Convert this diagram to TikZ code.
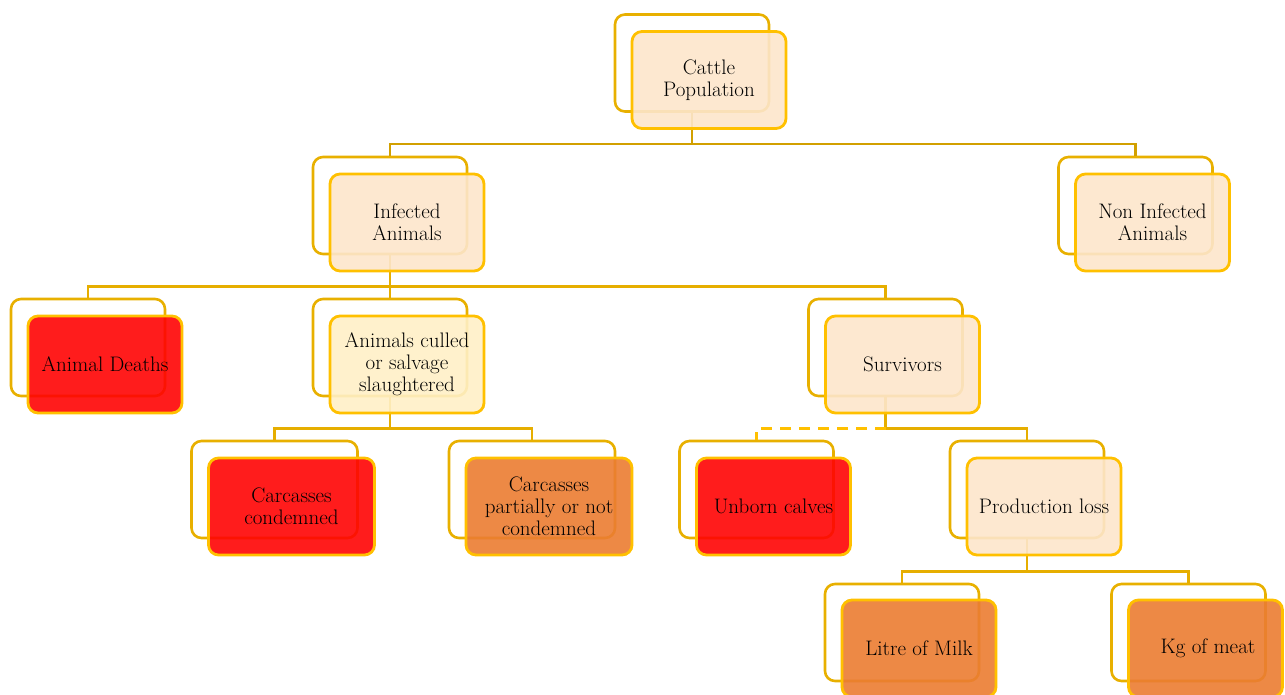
\documentclass[tikz,border=0pt]{standalone}
\definecolor{backc}{HTML}{E8B000}
\definecolor{frontc}{HTML}{FFC000}
\definecolor{connc}{HTML}{E6AE00}
\definecolor{conntop}{HTML}{D2A000}
\definecolor{peach}{HTML}{FDE6CB}
\definecolor{lyellow}{HTML}{FFF0C6}
\definecolor{bred}{HTML}{FF0303}
\definecolor{borange}{HTML}{EB7C31}
\begin{document}
\begin{tikzpicture}[x=1pt,y=-1pt,
  back/.style={draw=backc, line width=2.6pt, rounded corners=10pt, minimum width=154pt, minimum height=97pt, inner sep=0pt},
  front/.style={draw=frontc, line width=2.8pt, rounded corners=10pt, minimum width=154pt, minimum height=97pt, fill opacity=0.9, text opacity=1, align=center, font=\fontsize{21}{22}\selectfont, inner sep=0pt},
  wide/.style={minimum width=166pt},
  conn/.style={draw=connc, line width=2.5pt},
]
\useasboundingbox (0,0) rectangle (1285,695);
% back boxes
\node[back] (cattle-b) at (692,63) {};
\node[back] (inf-b) at (390,205.5) {};
\node[back] (non-b) at (1135.5,205.5) {};
\node[back] (dea-b) at (88,347.5) {};
\node[back] (cul-b) at (390,347.5) {};
\node[back] (sur-b) at (885.5,347.5) {};
\node[back,wide] (cc-b) at (274.5,489.5) {};
\node[back,wide] (cp-b) at (532,489.5) {};
\node[back] (unb-b) at (756.5,489.5) {};
\node[back] (pro-b) at (1027,489.5) {};
\node[back] (mil-b) at (902,632.5) {};
\node[back] (kg-b) at (1188.5,632.5) {};
% connectors
\draw[conn,draw=conntop] (cattle-b.south) -- ++(0,31) -| (inf-b.north);
\draw[conn,draw=conntop] (cattle-b.south) -- ++(0,31) -| (non-b.north);
\draw[conn] (inf-b.south) -- ++(0,31) -| (dea-b.north);
\draw[conn] (inf-b.south) -- ++(0,31) -| (cul-b.north);
\draw[conn] (inf-b.south) -- ++(0,31) -| (sur-b.north);
\draw[conn] (cul-b.south) -- ++(0,31) -| (cc-b.north);
\draw[conn] (cul-b.south) -- ++(0,31) -| (cp-b.north);
\draw[conn] (sur-b.south) -- ++(0,31) -| (pro-b.north);
\draw[conn,draw=frontc,dash pattern=on 11pt off 8pt] (sur-b.south) ++(0,31) -| (unb-b.north);
\draw[conn] (pro-b.south) -- ++(0,32) -| (mil-b.north);
\draw[conn] (pro-b.south) -- ++(0,32) -| (kg-b.north);
% front boxes
\node[front,fill=peach] (cattle) at ([shift={(17,17)}]cattle-b.center) {Cattle\\Population};
\node[front,fill=peach] (inf) at ([shift={(17,17)}]inf-b.center) {Infected\\Animals};
\node[front,fill=peach] (non) at ([shift={(17,17)}]non-b.center) {Non Infected\\Animals};
\node[front,fill=bred] (dea) at ([shift={(17,17)}]dea-b.center) {Animal Deaths};
\node[front,fill=lyellow] (cul) at ([shift={(17,17)}]cul-b.center) {Animals culled\\or salvage\\slaughtered};
\node[front,fill=peach] (sur) at ([shift={(17,17)}]sur-b.center) {Survivors};
\node[front,wide,fill=bred] (cc) at ([shift={(17,17)}]cc-b.center) {Carcasses\\condemned};
\node[front,wide,fill=borange] (cp) at ([shift={(17,17)}]cp-b.center) {Carcasses\\partially or not\\condemned};
\node[front,fill=bred] (unb) at ([shift={(17,17)}]unb-b.center) {Unborn calves};
\node[front,fill=peach] (pro) at ([shift={(17,17)}]pro-b.center) {Production loss};
\node[front,fill=borange] (mil) at ([shift={(17,16)}]mil-b.center) {Litre of Milk};
\node[front,fill=borange] (kg) at ([shift={(17,16)}]kg-b.center) {\hspace*{5pt}Kg of meat};
\end{tikzpicture}
\end{document}
